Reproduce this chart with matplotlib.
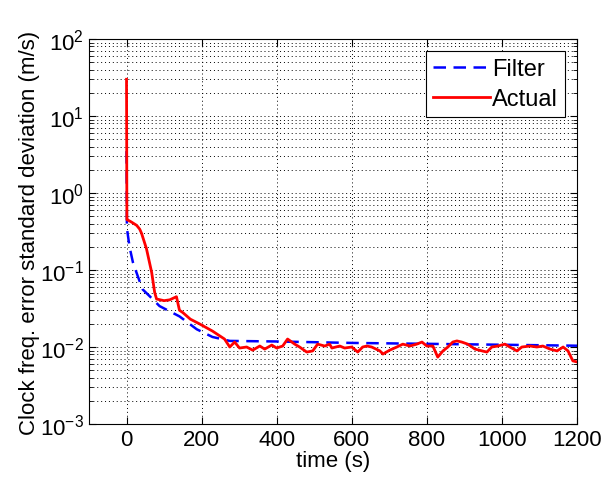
import numpy as np
import matplotlib.pyplot as plt
from matplotlib.ticker import LogLocator, NullFormatter

plt.rcParams['font.family'] = ['Liberation Sans', 'DejaVu Sans']

# filter (predicted) std
t_filter = [0, 1, 8, 17, 30, 43, 61, 88, 141, 187, 229, 275, 400, 600, 800, 1000, 1200]
sd_filter = [3.5, 0.35, 0.2, 0.126, 0.083, 0.056, 0.046, 0.034, 0.025, 0.017,
             0.0135, 0.012, 0.0118, 0.0113, 0.011, 0.0107, 0.0104]

# actual std
t_actual = [0, 1, 2, 13, 27, 35, 40, 53, 67, 75, 80, 100, 115, 133, 141, 150, 170, 195,
            229, 261, 275, 288, 301, 320, 336, 355, 368, 387, 400, 416, 429, 448, 461,
            480, 496, 509, 528, 541, 547, 568, 581, 600, 616, 629, 640, 653, 675, 683,
            701, 720, 736, 755, 773, 787, 800, 816, 829, 843, 856, 869, 880, 893, 909,
            928, 947, 960, 973, 989, 1008, 1021, 1040, 1053, 1075, 1093, 1109, 1128,
            1147, 1163, 1176, 1189, 1200]
sd_actual = [30, 0.45, 0.45, 0.42, 0.38, 0.34, 0.3, 0.19, 0.093, 0.051, 0.042, 0.040,
             0.041, 0.045, 0.030, 0.028, 0.023, 0.0199, 0.0161, 0.0127, 0.0100, 0.0116,
             0.0097, 0.0100, 0.0091, 0.0103, 0.0094, 0.0106, 0.0097, 0.0103, 0.0127,
             0.0109, 0.0100, 0.0086, 0.0089, 0.0109, 0.0103, 0.0109, 0.0097, 0.0103,
             0.0097, 0.0100, 0.0086, 0.0100, 0.0103, 0.0100, 0.0089, 0.0081, 0.0091,
             0.0100, 0.0109, 0.0103, 0.0109, 0.0116, 0.0103, 0.0103, 0.0074, 0.0089,
             0.0100, 0.0116, 0.0120, 0.0116, 0.0109, 0.0094, 0.0089, 0.0086, 0.0100,
             0.0103, 0.0109, 0.0100, 0.0089, 0.0100, 0.0103, 0.0100, 0.0103, 0.0094,
             0.0089, 0.0100, 0.0089, 0.0066, 0.0064]

fig = plt.figure(figsize=(6.07, 4.81), dpi=100)
ax = fig.add_axes([0.1466, 0.1164, 0.8040, 0.8004])

ax.semilogy(t_filter, sd_filter, '--', color='#0000ff', lw=1.8, dashes=(5, 3), label='Filter')
ax.semilogy(t_actual, sd_actual, '-', color='#ff0000', lw=2.0, label='Actual')

ax.set_xlim(-100, 1200)
ax.set_ylim(1e-3, 1e2)
ax.set_xticks(range(0, 1201, 200))
ax.yaxis.set_major_locator(LogLocator(base=10, numticks=10))
ax.yaxis.set_minor_locator(LogLocator(base=10, subs=np.arange(2, 10), numticks=20))
ax.yaxis.set_minor_formatter(NullFormatter())

ax.grid(True, which='major', color='k', linestyle=(0, (1, 3)), lw=0.7)
ax.grid(True, which='minor', axis='y', color='k', linestyle=(0, (1, 3)), lw=0.7)
ax.tick_params(which='both', direction='in', top=True, right=True, labelsize=16)
ax.tick_params(which='major', length=5)
ax.tick_params(which='minor', length=3)
for s in ax.spines.values():
    s.set_linewidth(0.8)

ax.set_xlabel('time (s)', fontsize=16, labelpad=0)
ax.set_ylabel('Clock freq. error standard deviation (m/s)', fontsize=16, labelpad=0)

leg = ax.legend(loc='upper right', fontsize=17, fancybox=False, framealpha=1,
                edgecolor='k', handlelength=2.4, borderaxespad=0.5, handletextpad=0.1,
                labelspacing=0.35, borderpad=0.3)
leg.get_frame().set_linewidth(0.8)

fig.savefig('out.png', dpi=100)
